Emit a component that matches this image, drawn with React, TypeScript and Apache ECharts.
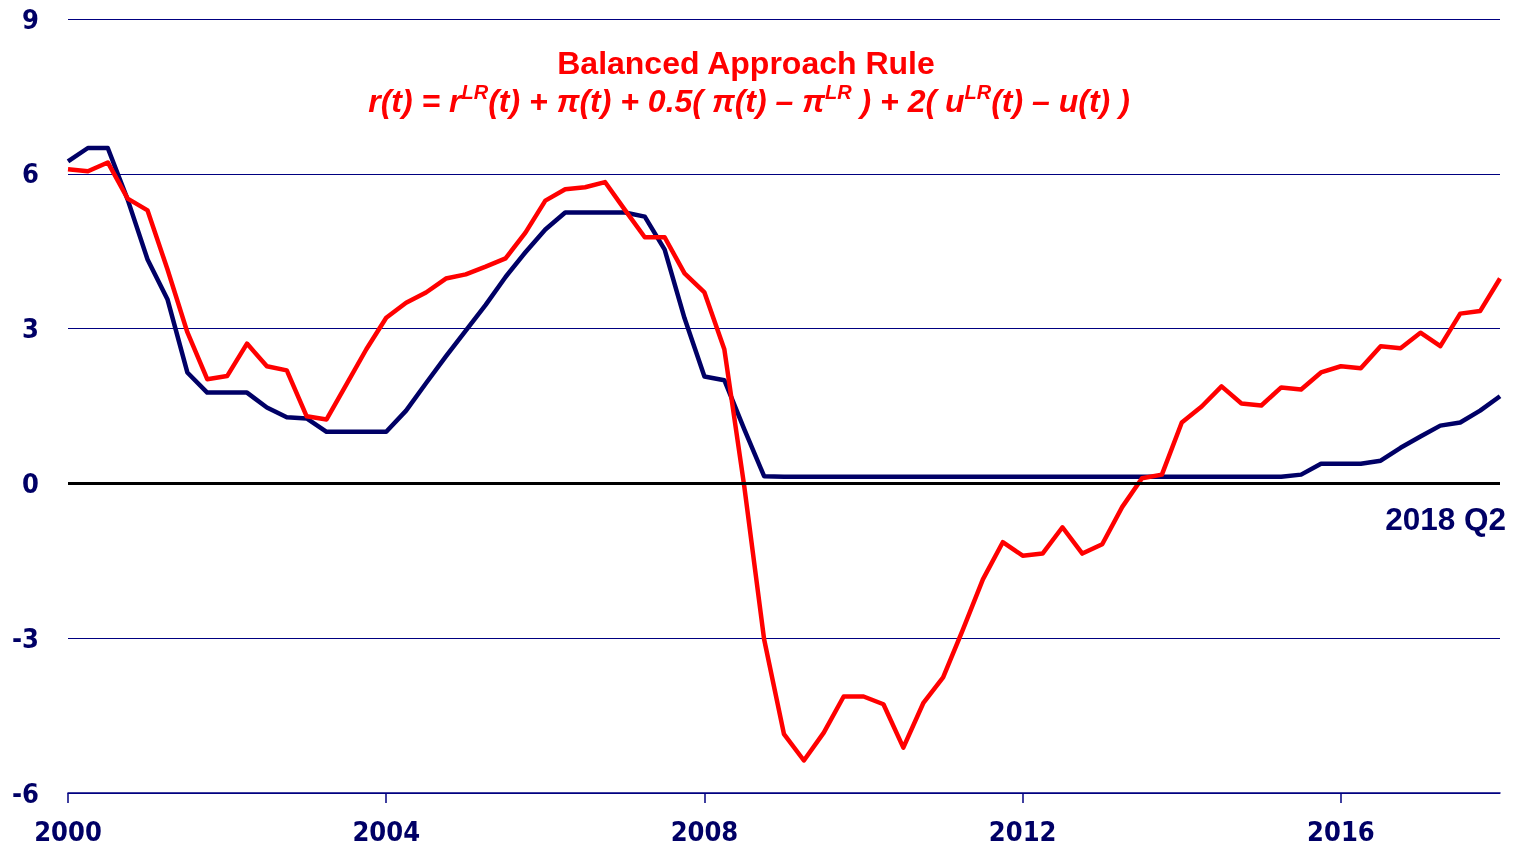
import React, { useEffect, useRef } from "react";
import * as echarts from "echarts";

// Quarterly observations, first point plotted at 2000.0, last at 2018.0 (2018 Q2)
const startYear = 2000;
const quarterStep = 0.25;

const fedFunds = [
  6.24, 6.5, 6.5, 5.5, 4.34, 3.57, 2.15, 1.76, 1.76, 1.76,
  1.47, 1.28, 1.26, 1.0, 1.0, 1.0, 1.0, 1.41, 1.94, 2.46,
  2.96, 3.46, 4.0, 4.48, 4.92, 5.25, 5.25, 5.25, 5.25, 5.17,
  4.53, 3.2, 2.07, 2.0, 1.05, 0.14, 0.13, 0.13, 0.13, 0.13,
  0.13, 0.13, 0.13, 0.13, 0.13, 0.13, 0.13, 0.13, 0.13, 0.13,
  0.13, 0.13, 0.13, 0.13, 0.13, 0.13, 0.13, 0.13, 0.13, 0.13,
  0.13, 0.13, 0.17, 0.38, 0.38, 0.38, 0.44, 0.69, 0.91, 1.12,
  1.18, 1.41, 1.69,
];

const balancedRule = [
  6.09, 6.05, 6.22, 5.52, 5.29, 4.15, 2.93, 2.02, 2.08, 2.71,
  2.27, 2.19, 1.3, 1.24, 1.92, 2.6, 3.21, 3.5, 3.7, 3.97,
  4.05, 4.2, 4.36, 4.86, 5.48, 5.7, 5.74, 5.84, 5.3, 4.77,
  4.77, 4.07, 3.7, 2.6, -0.05, -3.02, -4.86, -5.37, -4.83, -4.13,
  -4.13, -4.28, -5.12, -4.26, -3.76, -2.83, -1.86, -1.14, -1.4, -1.36,
  -0.85, -1.36, -1.18, -0.46, 0.1, 0.17, 1.18, 1.49, 1.88, 1.55,
  1.51, 1.86, 1.82, 2.15, 2.27, 2.23, 2.66, 2.62, 2.92, 2.66,
  3.29, 3.34, 3.97,
];

const xTickYears = [2000, 2004, 2008, 2012, 2016];
const yMin = -6;
const yMax = 9;
const yStep = 3;

const titleText = "Balanced Approach Rule";
const formulaText =
  "{a|r(t) = r}{s|LR}{a|(t) + \u03c0(t) + 0.5( \u03c0(t) \u2013 \u03c0}{s|LR}{a| ) + 2( u}{s|LR}{a|(t) \u2013 u(t) )}";
const endLabel = "2018 Q2";

const NAVY = "#000066";
const GRID = "#000080";
const RED = "#ff0000";
const LABEL_FONT = '"DejaVu Sans Condensed", "DejaVu Sans", sans-serif';
const TEXT_FONT = '"Liberation Sans", Arial, sans-serif';

export default function App() {
  const ref = useRef<HTMLDivElement>(null);

  useEffect(() => {
    if (!ref.current) return;
    const chart = echarts.init(ref.current, null, { renderer: "svg" });
    const toPts = (arr: number[]) =>
      arr.map((v, i) => [startYear + i * quarterStep, v]);

    chart.setOption({
      animation: false,
      grid: { left: 68, right: 14, top: 19, bottom: 56, containLabel: false },
      xAxis: {
        type: "value",
        min: 2000,
        max: 2018,
        interval: 4,
        axisLine: { show: true, onZero: false, lineStyle: { color: GRID, width: 1.5 } },
        axisTick: {
          show: true,
          length: 10,
          customValues: xTickYears,
          lineStyle: { color: GRID, width: 1.5 },
        },
        axisLabel: {
          customValues: xTickYears,
          formatter: (v: number) => String(v),
          color: NAVY,
          fontWeight: "bold",
          fontSize: 27,
          fontFamily: LABEL_FONT,
          margin: 25,
        },
        splitLine: { show: false },
      },
      yAxis: {
        type: "value",
        min: yMin,
        max: yMax,
        interval: yStep,
        axisLine: { show: false },
        axisTick: { show: false },
        axisLabel: {
          formatter: (v: number) => String(v),
          color: NAVY,
          fontWeight: "bold",
          fontSize: 27,
          fontFamily: LABEL_FONT,
          margin: 29,
        },
        splitLine: { show: true, lineStyle: { color: GRID, width: 1 } },
      },
      series: [
        {
          type: "line",
          name: "zero",
          data: [[2000, 0]],
          symbol: "none",
          lineStyle: { opacity: 0 },
          z: 1,
          silent: true,
          markLine: {
            silent: true,
            symbol: ["none", "none"],
            label: { show: false },
            lineStyle: { color: "#000000", width: 3, type: "solid" },
            data: [{ yAxis: 0 }],
          },
        },
        {
          type: "line",
          name: "Federal funds rate",
          data: toPts(fedFunds),
          symbol: "none",
          lineStyle: { color: NAVY, width: 4.5, join: "round" },
          z: 2,
        },
        {
          type: "line",
          name: "Balanced Approach Rule",
          data: toPts(balancedRule),
          symbol: "none",
          lineStyle: { color: RED, width: 4.5, join: "round" },
          z: 3,
        },
      ],
      graphic: [
        {
          type: "text",
          x: 746,
          y: 63,
          style: {
            text: titleText,
            fill: RED,
            fontSize: 32,
            fontWeight: "bold",
            fontFamily: TEXT_FONT,
            align: "center",
            verticalAlign: "middle",
          },
        },
        {
          type: "text",
          x: 749,
          y: 101,
          style: {
            text: formulaText,
            align: "center",
            verticalAlign: "middle",
            rich: {
              a: {
                fill: RED,
                fontSize: 32,
                fontWeight: "bold",
                fontStyle: "italic",
                fontFamily: TEXT_FONT,
                lineHeight: 38,
                verticalAlign: "middle",
              },
              s: {
                fill: RED,
                fontSize: 20,
                fontWeight: "bold",
                fontStyle: "italic",
                fontFamily: TEXT_FONT,
                lineHeight: 38,
                verticalAlign: "top",
              },
            },
          },
        },
        {
          type: "text",
          x: 1506,
          y: 519,
          style: {
            text: endLabel,
            fill: NAVY,
            fontSize: 31.5,
            fontWeight: "bold",
            fontFamily: TEXT_FONT,
            align: "right",
            verticalAlign: "middle",
          },
        },
      ],
    });

    return () => chart.dispose();
  }, []);

  return (
    <div
      ref={ref}
      style={{ position: "fixed", left: 0, top: 0, width: 1514, height: 849 }}
    />
  );
}
